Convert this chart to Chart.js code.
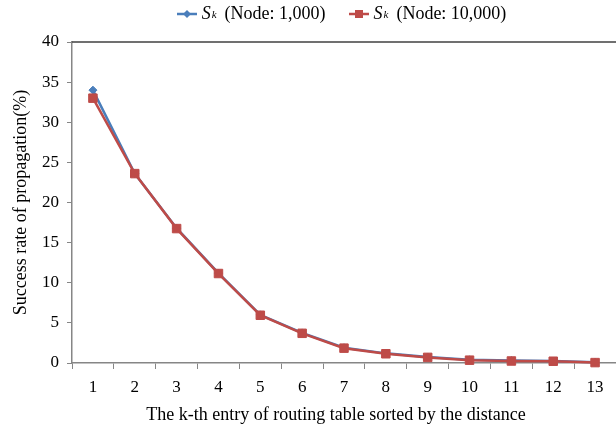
<!DOCTYPE html>
<html>
<head>
<meta charset="utf-8">
<script src="https://cdn.jsdelivr.net/npm/chart.js@4"></script>
<style>
  html, body { margin: 0; padding: 0; background: #fff; overflow: hidden; }
  #wrap { position: relative; width: 616px; height: 430px; }
  #chart { display: block; }
  #legend {
    position: absolute; top: 3px; left: 0; width: 616px;
    display: flex; justify-content: center; gap: 23px;
    font-family: "Liberation Serif", serif; font-size: 18px; color: #000;
    padding-left: 67px; box-sizing: border-box;
  }
  .item { display: flex; align-items: center; white-space: nowrap; }
  .item canvas { margin-right: 5px; }
  .item i { font-size: 18px; }
  .item sub { font-size: 11px; font-style: italic; vertical-align: -5px; margin-left: 1px; }
  .item .gap { display: inline-block; width: 8px; }
  #xTitle {
    position: absolute; left: 0; width: 672px; top: 404px; text-align: center;
    font-family: "Liberation Serif", serif; font-size: 18px; color: #000;
  }
</style>
</head>
<body>
<div id="wrap">
  <div id="legend"></div>
  <canvas id="chart" width="616" height="430"></canvas>
  <div id="xTitle">The k-th entry of routing table sorted by the distance</div>
</div>
<script>
const categories = ["1", "2", "3", "4", "5", "6", "7", "8", "9", "10", "11", "12", "13"];
const node1000 = [34, 23.6, 16.8, 11.2, 6.0, 3.75, 1.9, 1.2, 0.75, 0.4, 0.3, 0.25, 0.1];
const node10000 = [33, 23.6, 16.75, 11.15, 5.95, 3.7, 1.85, 1.15, 0.7, 0.35, 0.25, 0.22, 0.05];
const yTicks = [0, 5, 10, 15, 20, 25, 30, 35, 40];

const blue = "#4a7ebb";
const red = "#be4b48";
const serif = "Liberation Serif";

const series = [
  { label: "(Node: 1,000)", data: node1000, color: blue, style: "rectRot", radius: 4, order: 2 },
  { label: "(Node: 10,000)", data: node10000, color: red, style: "rect", radius: 6, order: 1 },
];

// html legend so the subscript stays real text
function buildLegend() {
  const box = document.getElementById("legend");
  series.forEach((s) => {
    const item = document.createElement("div");
    item.className = "item";
    const icon = document.createElement("canvas");
    icon.width = 20;
    icon.height = 12;
    const c = icon.getContext("2d");
    c.strokeStyle = s.color;
    c.lineWidth = 2.5;
    c.beginPath();
    c.moveTo(0, 6);
    c.lineTo(20, 6);
    c.stroke();
    c.fillStyle = s.color;
    c.beginPath();
    if (s.style === "rect") {
      c.rect(6, 2, 8, 8);
    } else {
      c.moveTo(10, 2); c.lineTo(14, 6); c.lineTo(10, 10); c.lineTo(6, 6); c.closePath();
    }
    c.fill();
    item.appendChild(icon);
    item.insertAdjacentHTML("beforeend", `<i>S</i><sub>k</sub><span class="gap"></span>${s.label}`);
    box.appendChild(item);
  });
}

const topBorder = {
  id: "topBorder",
  afterDraw(chart) {
    const { ctx, chartArea } = chart;
    ctx.save();
    ctx.strokeStyle = "#404040";
    ctx.lineWidth = 1.5;
    ctx.beginPath();
    ctx.moveTo(chartArea.left, chartArea.top);
    ctx.lineTo(chartArea.right + 2, chartArea.top);
    ctx.stroke();
    ctx.restore();
  },
};

function renderChart() {
  const ctx = document.getElementById("chart").getContext("2d");
  new Chart(ctx, {
    type: "line",
    data: {
      labels: categories,
      datasets: series.map((s) => ({
        label: s.label,
        data: s.data,
        borderColor: s.color,
        backgroundColor: s.color,
        borderWidth: 2.5,
        pointStyle: s.style,
        pointRadius: s.radius,
        pointBorderWidth: 1,
        tension: 0,
        order: s.order,
        clip: false,
      })),
    },
    options: {
      responsive: false,
      animation: false,
      layout: { autoPadding: false, padding: { top: 42, right: 0, left: 6, bottom: 0 } },
      plugins: { legend: { display: false }, tooltip: { enabled: false } },
      scales: {
        x: {
          offset: true,
          grid: { offset: true, drawOnChartArea: false, tickLength: 6, color: "#868686" },
          border: { color: "#868686", width: 1.5 },
          ticks: { color: "#000", font: { family: serif, size: 17 }, padding: 8 },
          afterFit(scale) { scale.height = 67; },
        },
        y: {
          min: 0,
          max: 40,
          afterBuildTicks(scale) { scale.ticks = yTicks.map((v) => ({ value: v })); },
          grid: { drawOnChartArea: false, tickLength: 5, color: "#868686" },
          border: { color: "#868686", width: 1.5 },
          ticks: { color: "#000", font: { family: serif, size: 17 }, padding: 8 },
          title: {
            display: true,
            text: "Success rate of propagation(%)",
            color: "#000",
            font: { family: serif, size: 18 },
            padding: { bottom: 2 },
          },
          afterFit(scale) { scale.width = 66; },
        },
      },
    },
    plugins: [topBorder],
  });
}

buildLegend();
renderChart();
</script>
</body>
</html>
